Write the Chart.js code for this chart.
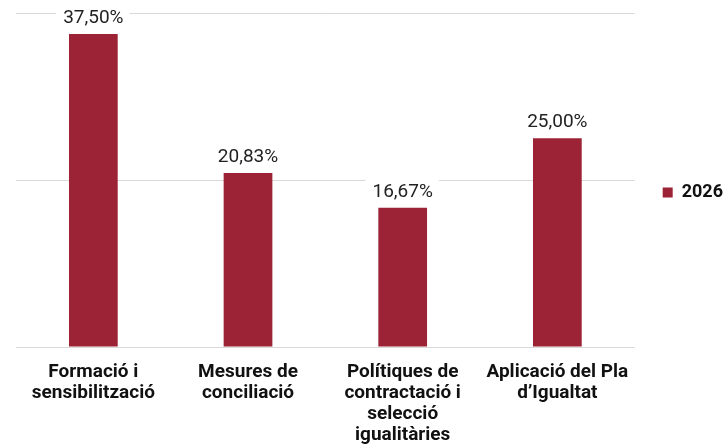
<!DOCTYPE html>
<html><head><meta charset="utf-8">
<script src="https://cdn.jsdelivr.net/npm/chart.js@4"></script>
<style>html,body{margin:0;padding:0;background:#fff}#wrap{width:727px;height:448px}</style>
</head><body><div id="wrap"><canvas id="c" width="727" height="448"></canvas></div>
<script>
const categories = [
  ["Formació i","sensibilització"],
  ["Mesures de","conciliació"],
  ["Polítiques de","contractació i","selecció","igualitàries"],
  ["Aplicació del Pla","d’Igualtat"]
];
const seriesName = "2026";
const values2026 = [37.50, 20.83, 16.67, 25.00];
const yTicks = [0, 20, 40];

const labelPlugin = {
  id: 'valLabels',
  beforeDraw(chart) {
    const L = chart.legend;
    if (L && !L._shifted) {
      L.top -= 38; L.bottom -= 38;
      L.left += 6; L.right += 6;
      L._shifted = true;
    }
  },
  afterDatasetsDraw(chart) {
    const ctx = chart.ctx;
    const meta = chart.getDatasetMeta(0);
    ctx.save();
    ctx.font = '19px Roboto';
    ctx.textAlign = 'center';
    ctx.textBaseline = 'alphabetic';
    meta.data.forEach((bar, i) => {
      const txt = values2026[i].toFixed(2).replace('.', ',') + '%';
      const w = ctx.measureText(txt).width;
      const y = bar.y - 11;
      ctx.fillStyle = '#fff';
      ctx.fillRect(bar.x - w/2 - 7, y - 18, w + 13, 22);
      ctx.fillStyle = '#222';
      ctx.fillText(txt, bar.x, y);
    });
    ctx.restore();
  }
};

new Chart(document.getElementById('c'), {
  type: 'bar',
  data: {
    labels: categories,
    datasets: [{
      label: seriesName,
      data: values2026,
      backgroundColor: '#9B2335',
      barPercentage: 0.315,
      categoryPercentage: 1.0
    }]
  },
  options: {
    responsive: false,
    animation: false,
    devicePixelRatio: 1,
    layout: { padding: { left: 16, top: 13, right: 0, bottom: 0 } },
    plugins: {
      legend: {
        position: 'right',
        labels: {
          boxWidth: 10, boxHeight: 10, padding: 22,
          color: '#111',
          font: { family: 'Roboto', size: 18, weight: 'bold' }
        }
      },
      tooltip: { enabled: false }
    },
    scales: {
      x: {
        afterFit(s) { s.height = 101; },
        grid: { display: false, drawTicks: false },
        border: { display: false },
        ticks: {
          color: '#111',
          font: { family: 'Roboto', size: 19, weight: 'bold', lineHeight: '21px' },
          maxRotation: 0, autoSkip: false, padding: 15
        }
      },
      y: {
        min: 0, max: 40,
        afterBuildTicks(s) { s.ticks = yTicks.map(v => ({ value: v })); },
        ticks: { display: false },
        grid: { color: '#d9d9d9', lineWidth: 1, drawTicks: false },
        border: { display: false }
      }
    }
  },
  plugins: [labelPlugin]
});
</script></body></html>
